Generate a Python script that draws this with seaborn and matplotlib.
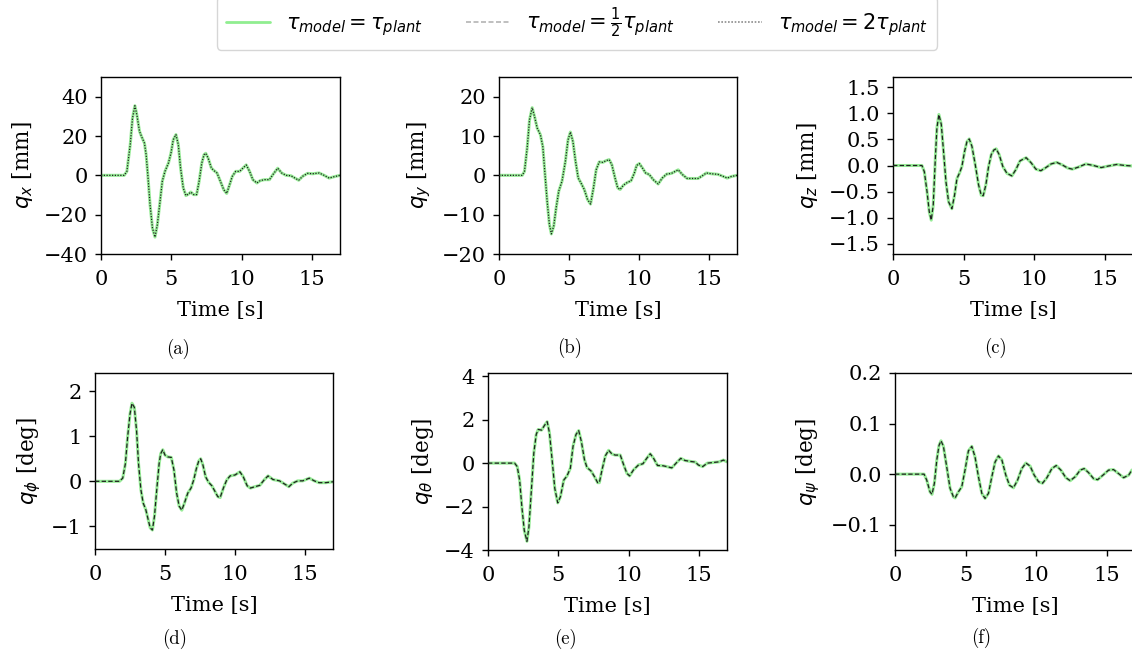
import matplotlib
matplotlib.use("Agg")
import matplotlib.pyplot as plt
import seaborn as sns
from matplotlib.lines import Line2D

sns.set_style("ticks")
plt.rcParams["font.family"] = ["DejaVu Serif"]
plt.rcParams["mathtext.fontset"] = "dejavusans"
plt.rcParams["axes.linewidth"] = 1.0
plt.rcParams["xtick.major.width"] = 1.0
plt.rcParams["ytick.major.width"] = 1.0
plt.rcParams["xtick.direction"] = "out"
plt.rcParams["ytick.direction"] = "out"
for key in ["text.color", "axes.labelcolor", "xtick.color", "ytick.color", "axes.edgecolor"]:
    plt.rcParams[key] = "black"

# ---- time histories (the three model variants coincide) ----
t_qx = [0, 1.65, 1.84, 2.08, 2.24, 2.41, 2.55, 2.74, 2.88, 3.09, 3.21, 3.33, 3.49, 3.66, 3.84, 4.01,
        4.2, 4.36, 4.55, 4.8, 4.98, 5.14, 5.33, 5.5, 5.66, 5.85, 6.04, 6.23, 6.39, 6.58, 6.8, 6.98,
        7.17, 7.33, 7.45, 7.62, 7.85, 8.04, 8.25, 8.49, 8.73, 8.94, 9.15, 9.34, 9.58, 9.86, 10.1,
        10.33, 10.57, 10.8, 11.09, 11.32, 11.63, 11.98, 12.26, 12.57, 12.85, 13.16, 13.51, 13.87,
        14.06, 14.34, 14.69, 15.05, 15.52, 15.87, 16.23, 16.58, 17.0]
qx = [0, 0, 2, 15.6, 29, 35.4, 30.8, 22.4, 19.8, 16.4, 10.5, 0.3, -15, -26.8, -31.4, -25, -13.2,
      -3, 2, 6.3, 11.4, 18.1, 20.7, 15.6, 3.7, -6.4, -10.3, -9.5, -8.5, -9.8, -9.8, -3, 6.3, 10.5,
      11.2, 8.8, 3.7, 2.4, 1.2, -3, -7.3, -9.2, -4.7, -0.5, 2, 2, 3.7, 5.3, 2, -2.2, -3.9, -2.7,
      -2.2, -2.2, 0.7, 3.6, 1.2, 0, -0.2, -1.7, -2.5, -0.5, 1, 0.8, 1.2, 0, -1.4, -0.7, 0]

t_qy = [0, 1.66, 1.82, 2.01, 2.18, 2.37, 2.54, 2.73, 2.96, 3.13, 3.27, 3.44, 3.6, 3.74, 3.91, 4.08,
        4.27, 4.5, 4.74, 4.93, 5.1, 5.28, 5.47, 5.66, 5.85, 6.09, 6.33, 6.54, 6.75, 6.94, 7.16, 7.42,
        7.63, 7.87, 8.06, 8.29, 8.48, 8.65, 8.89, 9.17, 9.43, 9.67, 9.83, 10.02, 10.24, 10.47, 10.73,
        11.02, 11.37, 11.66, 11.97, 12.32, 12.8, 13.1, 13.44, 13.86, 14.22, 14.53, 14.81, 15.17,
        15.64, 16.0, 16.3, 16.59, 17.0]
qy = [0, 0, 1, 6.9, 14.1, 17.2, 14.9, 12, 10.3, 7.3, 1, -6.6, -12.5, -14.9, -12.9, -8.3, -4, -1.5,
      3.5, 9, 11, 8.6, 3.5, -0.7, -1.9, -3.6, -6.2, -7.3, -3.2, 1.4, 3.4, 3.3, 3.7, 4, 2.7, -0.7,
      -3.2, -3.6, -2.5, -1.8, -1.4, 0.6, 2.5, 3, 1.9, 0.6, 0.2, -1.1, -2.2, -0.7, 0.3, 0.5, 1.4,
      0.2, -0.8, -0.8, -0.8, -0.1, 0.6, 0.4, 0.25, -0.25, -0.7, -0.3, 0]

t_qz = [0, 2.05, 2.22, 2.41, 2.57, 2.71, 2.85, 3.0, 3.11, 3.25, 3.42, 3.58, 3.75, 3.94, 4.17, 4.36,
        4.53, 4.72, 4.88, 5.07, 5.24, 5.4, 5.59, 5.83, 6.06, 6.25, 6.39, 6.58, 6.77, 6.96, 7.15,
        7.31, 7.52, 7.78, 8.07, 8.42, 8.7, 9.0, 9.43, 9.79, 10.12, 10.47, 10.83, 11.2, 11.6, 12.0,
        12.38, 12.71, 13.14, 13.66, 14.2, 14.74, 15.26, 15.85, 16.44, 17.0]
qz = [0, 0, -0.12, -0.5, -0.89, -1.05, -0.76, 0.14, 0.72, 0.98, 0.79, 0.27, -0.31, -0.7, -0.83,
      -0.57, -0.25, -0.14, -0.02, 0.27, 0.46, 0.51, 0.37, 0.01, -0.37, -0.57, -0.58, -0.37, -0.02,
      0.21, 0.3, 0.32, 0.21, -0.02, -0.15, -0.2, -0.08, 0.09, 0.15, 0.05, -0.07, -0.1, -0.04, 0.03,
      0.06, 0.01, -0.05, -0.07, -0.03, 0.03, 0, -0.04, -0.01, 0.02, 0, -0.01]

t_qphi = [0, 1.75, 1.98, 2.17, 2.33, 2.5, 2.64, 2.81, 2.97, 3.11, 3.28, 3.44, 3.63, 3.8, 3.94, 4.1,
          4.25, 4.41, 4.58, 4.69, 4.84, 5.0, 5.21, 5.45, 5.64, 5.83, 6.01, 6.2, 6.39, 6.63, 6.86,
          7.05, 7.24, 7.41, 7.55, 7.71, 7.9, 8.11, 8.35, 8.58, 8.77, 8.94, 9.17, 9.41, 9.65, 10.0,
          10.35, 10.59, 10.87, 11.1, 11.42, 11.77, 12.08, 12.36, 12.71, 13.18, 13.54, 13.85, 14.13,
          14.48, 14.84, 15.31, 15.66, 16.0, 16.49, 17.0]
qphi = [0, 0, 0.07, 0.39, 0.98, 1.49, 1.73, 1.64, 1.12, 0.39, -0.19, -0.48, -0.63, -0.85, -1.03,
        -1.08, -0.77, -0.19, 0.39, 0.61, 0.7, 0.58, 0.54, 0.53, 0.25, -0.26, -0.55, -0.64, -0.48,
        -0.26, -0.15, 0.03, 0.28, 0.45, 0.5, 0.36, 0.1, -0.02, -0.1, -0.23, -0.34, -0.36, -0.15,
        0.03, 0.12, 0.14, 0.21, 0.1, -0.1, -0.15, -0.12, -0.09, 0.03, 0.12, 0.04, 0.01, -0.06,
        -0.12, -0.04, 0.01, 0.01, 0.07, 0.01, -0.03, -0.03, -0.01]

t_qtheta = [0, 1.89, 2.08, 2.25, 2.41, 2.58, 2.77, 2.91, 3.07, 3.26, 3.43, 3.57, 3.81, 4.02, 4.21,
            4.37, 4.56, 4.75, 4.96, 5.15, 5.39, 5.62, 5.86, 6.05, 6.26, 6.45, 6.64, 6.86, 7.04,
            7.33, 7.57, 7.8, 7.92, 8.11, 8.35, 8.58, 8.82, 9.05, 9.41, 9.65, 9.88, 10.07, 10.35,
            10.71, 11.02, 11.3, 11.54, 11.77, 12.06, 12.44, 12.72, 13.07, 13.38, 13.71, 14.02,
            14.38, 14.74, 14.97, 15.27, 15.6, 16.03, 16.45, 16.74, 17.0]
qtheta = [0, 0, -0.16, -0.78, -2.02, -3.1, -3.6, -2.95, -1.4, 0.47, 1.32, 1.55, 1.52, 1.74, 1.91,
          1.4, 0.16, -1.16, -1.83, -1.55, -0.78, -0.59, -0.23, 0.78, 1.32, 1.5, 1.0, 0.16, -0.2,
          -0.36, -0.62, -0.9, -0.9, -0.31, 0.34, 0.59, 0.42, 0.37, 0.37, -0.08, -0.47, -0.59,
          -0.31, -0.08, -0.03, 0.23, 0.43, 0.23, -0.11, -0.12, -0.16, -0.22, 0, 0.22, 0.12, 0.08,
          0.05, -0.09, -0.16, 0, 0.03, 0.06, 0.14, 0.06]

t_qpsi = [0, 2.06, 2.25, 2.48, 2.62, 2.79, 2.96, 3.12, 3.26, 3.43, 3.66, 3.9, 4.14, 4.26, 4.49,
          4.73, 4.96, 5.2, 5.44, 5.67, 5.91, 6.15, 6.38, 6.62, 6.86, 7.09, 7.33, 7.57, 7.85, 8.11,
          8.39, 8.68, 8.98, 9.27, 9.57, 9.86, 10.17, 10.45, 10.76, 11.11, 11.42, 11.75, 12.1,
          12.41, 12.77, 13.12, 13.4, 13.71, 14.07, 14.35, 14.73, 15.13, 15.48, 15.84, 16.19,
          16.55, 16.78, 17.0]
qpsi = [0, 0, -0.012, -0.035, -0.04, -0.018, 0.028, 0.057, 0.066, 0.055, 0.015, -0.028, -0.045,
        -0.047, -0.035, -0.025, 0.008, 0.046, 0.055, 0.034, -0.005, -0.038, -0.048, -0.038,
        -0.005, 0.024, 0.036, 0.028, -0.002, -0.022, -0.027, -0.012, 0.011, 0.022, 0.016, -0.002,
        -0.015, -0.018, -0.007, 0.011, 0.017, 0.008, -0.007, -0.013, -0.005, 0.008, 0.011, 0.003,
        -0.009, -0.011, -0.002, 0.008, 0.009, 0.001, -0.007, -0.002, 0.008, 0.009]

ylabels = [r"$q_x$ [mm]", r"$q_y$ [mm]", r"$q_z$ [mm]",
           r"$q_\phi$ [deg]", r"$q_\theta$ [deg]", r"$q_\psi$ [deg]"]
captions = ["(a)", "(b)", "(c)", "(d)", "(e)", "(f)"]
legend_labels = [r"$\tau_{model} = \tau_{plant}$",
                 r"$\tau_{model} = \frac{1}{2}\tau_{plant}$",
                 r"$\tau_{model} = 2\tau_{plant}$"]

panels = [
    (t_qx, qx, (-40, 50), [-40, -20, 0, 20, 40]),
    (t_qy, qy, (-20, 25), [-20, -10, 0, 10, 20]),
    (t_qz, qz, (-1.7, 1.7), [-1.5, -1.0, -0.5, 0.0, 0.5, 1.0, 1.5]),
    (t_qphi, qphi, (-1.5, 2.4), [-1, 0, 1, 2]),
    (t_qtheta, qtheta, (-4, 4.15), [-4, -2, 0, 2, 4]),
    (t_qpsi, qpsi, (-0.15, 0.2), [-0.1, 0.0, 0.1, 0.2]),
]

W, H = 1132, 663
fig = plt.figure(figsize=(W / 100, H / 100), dpi=100)

# axes boxes in pixels: left, top, right, bottom
boxes = [(101, 77, 340, 254), (499, 77, 737, 254), (893, 77, 1133, 254),
         (95, 373, 333, 549), (488, 373, 727, 550), (895, 373, 1135, 550)]
caption_xy = [(178, 349), (570, 348), (996, 348), (175, 639), (566, 639), (981, 638)]

green = "#98ec98"
for i, ((t, v, ylim, yt), (l, tp, r, b)) in enumerate(zip(panels, boxes)):
    ax = fig.add_axes([l / W, 1 - b / H, (r - l) / W, (b - tp) / H])
    top_dotted = i < 2
    sns.lineplot(x=t, y=v, ax=ax, color=green, linewidth=2.2, estimator=None, sort=False, zorder=2)
    sns.lineplot(x=t, y=v, ax=ax, color="#202020", linewidth=0.9, linestyle=(0, (3.5, 1.8)),
                 estimator=None, sort=False, zorder=1 if top_dotted else 3)
    sns.lineplot(x=t, y=v, ax=ax, color="#202020", linewidth=0.9, linestyle=(0, (1, 1.2)),
                 estimator=None, sort=False, zorder=3 if top_dotted else 1)
    ax.set_xlim(0, 17)
    ax.set_ylim(*ylim)
    ax.set_xticks([0, 5, 10, 15])
    ax.set_yticks(yt)
    ax.tick_params(labelsize=15, length=4.5, pad=5)
    ax.tick_params(axis="x", pad=7)
    ax.set_xlabel("Time [s]", fontsize=15, labelpad=9)
    ax.set_ylabel(ylabels[i], fontsize=15.5, labelpad=6)
    for s in ax.spines.values():
        s.set_visible(True)
        s.set_color("black")
    cx, cy = caption_xy[i]
    fig.text(cx / W, 1 - cy / H, captions[i], family="cmr10", fontsize=13.5,
             ha="center", va="center", color="black")

handles = [Line2D([], [], color="#90ee90", lw=2.0),
           Line2D([], [], color="#b4b4b4", lw=1.2, linestyle=(0, (3, 1.5))),
           Line2D([], [], color="#8c8c8c", lw=1.2, linestyle=(0, (1, 1)))]
fig.legend(handles, legend_labels, loc="center", bbox_to_anchor=(577 / W, 1 - 23 / H), ncol=3,
           fontsize=15, frameon=True, handlelength=2.1, handletextpad=0.76, columnspacing=2.1,
           edgecolor="#cccccc", fancybox=True, borderpad=0.45)

fig.savefig("out.png", dpi=100)
